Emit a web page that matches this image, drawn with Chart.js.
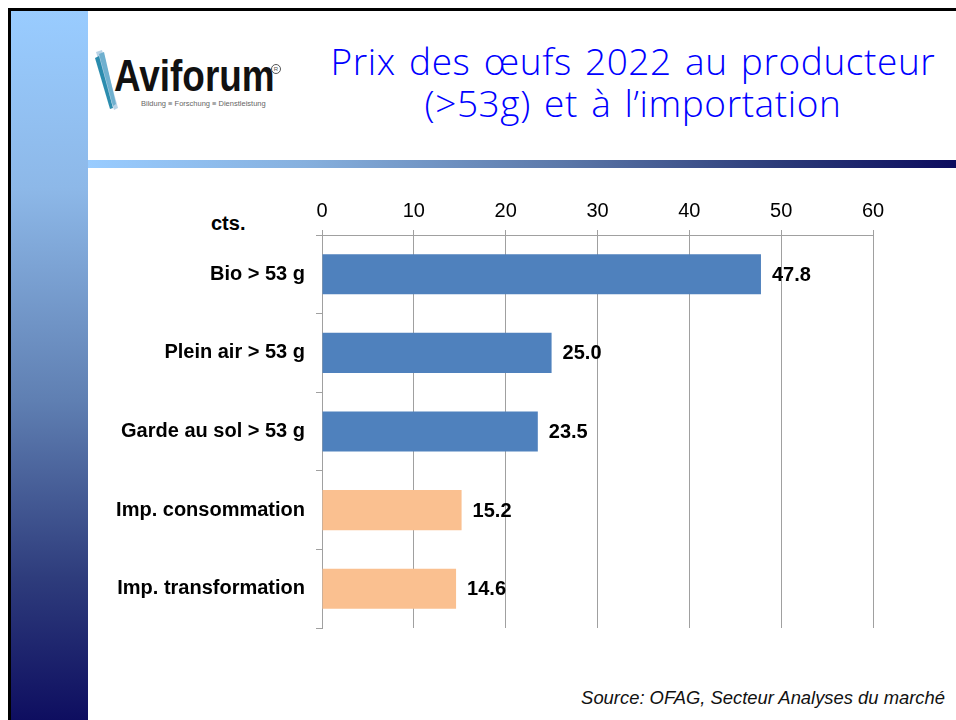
<!DOCTYPE html>
<html>
<head>
<meta charset="utf-8">
<script src="https://cdn.jsdelivr.net/npm/chart.js@4.4.1/dist/chart.umd.min.js"></script>
<style>
  html, body { margin: 0; padding: 0; background: #fff; }
  #page { position: relative; width: 956px; height: 720px; overflow: hidden; background: #fff; }
  .frame-top { position: absolute; left: 8px; top: 8px; width: 948px; height: 3px; background: #000; }
  .frame-left { position: absolute; left: 8px; top: 8px; width: 3px; height: 712px; background: #000; }
  .side { position: absolute; left: 11px; top: 11px; width: 77px; height: 709px;
          background: linear-gradient(to bottom, #99ccff 0%, #8db8e8 25%, #5f7fb2 55%, #2e3c7c 80%, #0e0e60 100%); }
  .rule { position: absolute; left: 88px; top: 160px; width: 868px; height: 8px;
          background: linear-gradient(to right, #99ccff 0%, #86b0de 25%, #5b77a8 55%, #2b3a78 80%, #0c0c5e 100%); }
  .title { position: absolute; left: 633px; transform: translateX(-50%); white-space: nowrap;
           font-family: "Open Sans", "DejaVu Sans", sans-serif; font-weight: 300; font-size: 37px;
           letter-spacing: 0.6px; word-spacing: 3px; color: #0000ff; line-height: 1; }
  .logo-word { position: absolute; left: 114px; top: 53px; font-family: "Liberation Sans", Arial, sans-serif;
               font-weight: bold; font-size: 45px; color: #111; line-height: 1;
               transform: scaleX(0.82); transform-origin: left top; }
  .logo-sub { position: absolute; left: 141px; top: 99px; font-family: "Liberation Sans", Arial, sans-serif;
              font-size: 7.5px; color: #666; white-space: nowrap; }
  .logo-reg { position: absolute; left: 271px; top: 64px; width: 8px; height: 8px; border: 1px solid #555;
              border-radius: 50%; font: 6px "Liberation Sans", Arial, sans-serif; color: #555; text-align: center; line-height: 8px; }
  .cts { position: absolute; left: 211px; top: 212px; font: bold 20px "Liberation Sans", Arial, sans-serif; color: #000; }
  .source { position: absolute; right: 11px; top: 687px; font: italic 18.4px "Liberation Sans", Arial, sans-serif; color: #111; white-space: nowrap; }
  #chart { position: absolute; left: 0; top: 0; }
</style>
</head>
<body>
<div id="page">
  <div class="side"></div>
  <div class="frame-top"></div>
  <div class="frame-left"></div>
  <div class="rule"></div>

  <svg style="position:absolute;left:94px;top:48px" width="30" height="64">
    <polygon points="2,4 8,2 24,60 20,62" fill="#b9d3e6"/>
    <polygon points="5,6 10,4 22,56 19,58" fill="#6fb0cf"/>
    <polygon points="1,10 5,8 19,60 16,61" fill="#2b8cae"/>
  </svg>
  <div class="logo-word">Aviforum</div>
  <div class="logo-reg">R</div>
  <div class="logo-sub">Bildung ≡ Forschung ≡ Dienstleistung</div>

  <div class="title" style="top:42px">Prix des œufs 2022 au producteur</div>
  <div class="title" style="top:84px">(&gt;53g) et à l’importation</div>

  <div class="cts">cts.</div>
  <div class="source">Source: OFAG, Secteur Analyses du marché</div>

  <canvas id="chart" width="956" height="720"></canvas>
</div>

<script>
"use strict";

// ---------------- data ----------------
const categories = [
  "Bio > 53 g",
  "Plein air > 53 g",
  "Garde au sol > 53 g",
  "Imp. consommation",
  "Imp. transformation",
];
const prices = [47.8, 25.0, 23.5, 15.2, 14.6];
const barColors = ["#4f81bd", "#4f81bd", "#4f81bd", "#fac090", "#fac090"];
const xTicks = [0, 10, 20, 30, 40, 50, 60];

const gridGray = "#a0a0a0";
const font = "'Liberation Sans', Arial, sans-serif";

// value labels right of each bar
const valueLabels = {
  id: "valueLabels",
  afterDatasetsDraw(chart) {
    const ctx = chart.ctx;
    const meta = chart.getDatasetMeta(0);
    ctx.save();
    ctx.font = "bold 20px " + font;
    ctx.fillStyle = "#000";
    ctx.textAlign = "left";
    ctx.textBaseline = "middle";
    meta.data.forEach((bar, i) => {
      ctx.fillText(prices[i].toFixed(1), bar.x + 11, bar.y + 1);
    });
    ctx.restore();
  },
};

new Chart(document.getElementById("chart"), {
  type: "bar",
  data: {
    labels: categories,
    datasets: [{
      data: prices,
      backgroundColor: barColors,
      borderWidth: 0,
      categoryPercentage: 0.51,
      barPercentage: 1,
    }],
  },
  plugins: [valueLabels],
  options: {
    indexAxis: "y",
    responsive: false,
    animation: false,
    events: [],
    layout: { padding: { left: 0, right: 83, top: 0, bottom: 92 } },
    plugins: { legend: { display: false }, tooltip: { enabled: false } },
    scales: {
      x: {
        position: "top",
        min: 0, max: 60,
        afterBuildTicks: (s) => { s.ticks = xTicks.map((v) => ({ value: v })); },
        afterFit: (s) => { s.height = 235; },
        grid: { color: gridGray, lineWidth: 1, tickLength: 5 },
        border: { display: true, color: gridGray },
        ticks: { color: "#000", font: { family: font, size: 20 }, padding: 7 },
      },
      y: {
        afterFit: (s) => { s.width = 322; },
        grid: { drawOnChartArea: false, color: gridGray, tickLength: 6, offset: true },
        border: { display: true, color: gridGray },
        ticks: { color: "#000", font: { family: font, size: 20, weight: "bold" }, padding: 11 },
      },
    },
  },
});
</script>
</body>
</html>
